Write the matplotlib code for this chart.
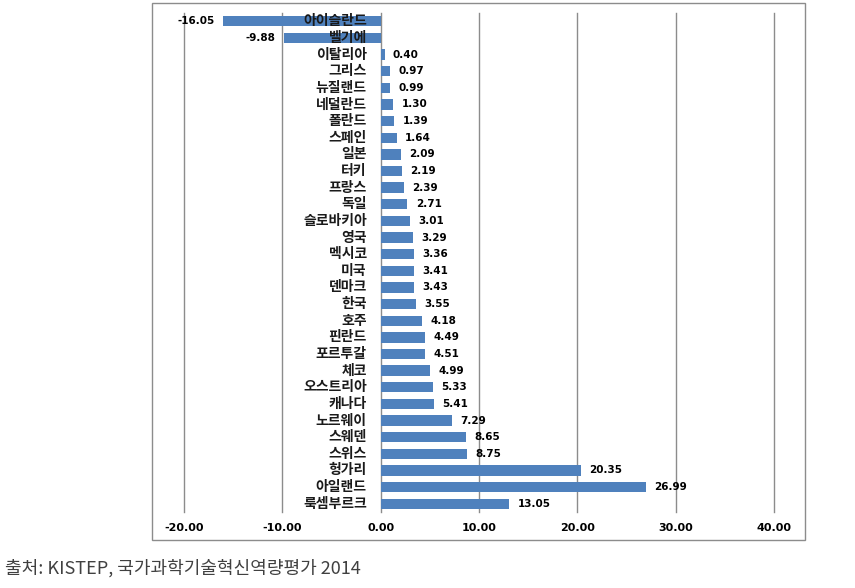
import numpy as np
import matplotlib.pyplot as plt
from matplotlib.patches import Rectangle

plt.rcParams['font.family'] = ['Noto Sans CJK KR', 'DejaVu Sans']

# data (top to bottom as in the chart)
countries = ["아이슬란드", "벨기에", "이탈리아", "그리스", "뉴질랜드", "네덜란드",
             "폴란드", "스페인", "일본", "터키", "프랑스", "독일", "슬로바키아",
             "영국", "멕시코", "미국", "덴마크", "한국", "호주", "핀란드",
             "포르투갈", "체코", "오스트리아", "캐나다", "노르웨이", "스웨덴",
             "스위스", "헝가리", "아일랜드", "룩셈부르크"]
values = [-16.05, -9.88, 0.40, 0.97, 0.99, 1.30, 1.39, 1.64, 2.09, 2.19,
          2.39, 2.71, 3.01, 3.29, 3.36, 3.41, 3.43, 3.55, 4.18, 4.49,
          4.51, 4.99, 5.33, 5.41, 7.29, 8.65, 8.75, 20.35, 26.99, 13.05]
xticks = [-20, -10, 0, 10, 20, 30, 40]
source = "출처: KISTEP, 국가과학기술혁신역량평가 2014"

fig = plt.figure(figsize=(8.55, 5.88), dpi=100)
ax = fig.add_axes([184/855, 1-512/588, (774-184)/855, (512-13)/588])

y = np.arange(len(countries))
ax.barh(y, values, height=0.62, color="#4F81BD", zorder=3)

ax.set_xlim(-20, 40)
ax.set_ylim(len(countries)-0.5, -0.5)
ax.set_xticks(xticks)
ax.set_xticklabels(["%.2f" % t for t in xticks], fontsize=8, fontweight="bold",
                   family="DejaVu Sans")
ax.set_yticks([])
ax.tick_params(axis="x", length=0, pad=8)
ax.grid(axis="x", color="#8c8c8c", linewidth=1, zorder=0)
for gl in ax.get_xgridlines():
    gl.set_clip_on(False)
for s in ax.spines.values():
    s.set_visible(False)

for i, (c, v) in enumerate(zip(countries, values)):
    ax.annotate(c, (0, i), xytext=(-10, 0), textcoords="offset points",
                ha="right", va="center", fontsize=10, fontweight="bold",
                color="#1a1a1a", zorder=4)
    if v < 0:
        ax.annotate("%.2f" % v, (v, i), xytext=(-6, 0), textcoords="offset points",
                    ha="right", va="center", fontsize=7.5, fontweight="bold",
                    family="DejaVu Sans", zorder=4)
    else:
        ax.annotate("%.2f" % v, (v, i), xytext=(6, 0), textcoords="offset points",
                    ha="left", va="center", fontsize=7.5, fontweight="bold",
                    family="DejaVu Sans", zorder=4)

# chart border
fig.patches.append(Rectangle((152/855, 1-540/588), (805-152)/855, (540-3)/588,
                             transform=fig.transFigure, fill=False,
                             edgecolor="#8c8c8c", linewidth=1))

fig.text(5/855, 1-568/588, source, fontsize=13, fontweight="light",
         color="#404040", ha="left", va="center")

fig.savefig("out.png", dpi=100)
